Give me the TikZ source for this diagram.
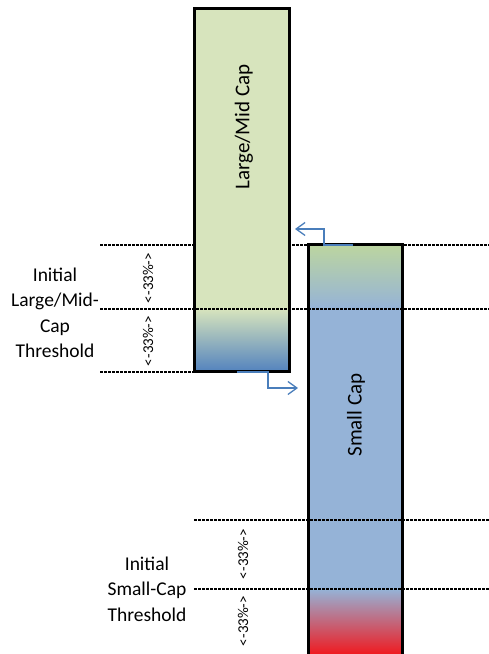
\documentclass[tikz,border=0pt]{standalone}
\usepackage{fontspec}
\setmainfont{Carlito}
\usepackage{xcolor}
\usetikzlibrary{arrows.meta, positioning}

\definecolor{lmgreen}{HTML}{D7E4BD}
\definecolor{topgreen}{HTML}{BCD5A0}
\definecolor{capblue}{HTML}{95B3D7}
\definecolor{deepblue}{HTML}{5282BE}
\definecolor{capred}{HTML}{F2161B}
\definecolor{connblue}{HTML}{4A7EBB}

\begin{document}
\begin{tikzpicture}[x=1pt, y=1pt,
        capbox/.style={rectangle, inner sep=0pt, outer sep=0pt},
        edge/.style={draw=black, line width=3pt},
        caplabel/.style={rotate=90, font=\fontsize{21}{25}\selectfont},
        threshold/.style={align=center, font=\fontsize{19.5}{25.5}\selectfont},
        pct/.style={rotate=90, inner sep=0pt, font=\fontsize{15}{17}\selectfont},
        level/.style={dash pattern=on 3pt off 1pt, line width=2pt, black},
        move/.style={-{Straight Barb[length=9pt, width=13pt]}, line width=1.3pt, connblue}
    ]
        \clip (0,0) rectangle (489,654);

        % Level behind the boxes
        \draw[level] (100,409) -- (489,409);

        % Boxes
        \node[capbox, fill=lmgreen, minimum width=95pt, minimum height=363pt] (large) at (241.5,463.5) {};
        \node[capbox, fill=capblue, minimum width=94pt, minimum height=411pt] (small) at (355,203.5) {};
        \shade[top color=lmgreen, bottom color=deepblue] ([yshift=63pt]large.south west) rectangle (large.south east);
        \shade[top color=topgreen, bottom color=capblue] (small.north west) rectangle ([yshift=-64pt]small.north east);
        \shade[top color=capblue, bottom color=capred] ([yshift=67pt]small.south west) rectangle (small.south east);
        \draw[edge] (large.south west) rectangle (large.north east);
        \draw[edge] (small.south west) rectangle (small.north east);
        \node[caplabel] (largetxt) at (244,527) {Large/Mid Cap};
        \node[caplabel] (smalltxt) at (356,239) {Small Cap};

        % Levels
        \draw[level] (100,345) -- (489,345);
        \draw[level] (100,282) -- (large.south west);
        \foreach \y in {134, 65}
            \draw[level] (194,\y) -- (489,\y);

        % Thresholds
        \node[threshold] (largethr) at (55,341) {Initial\\Large/Mid-\\Cap\\Threshold};
        \node[threshold] (smallthr) at (147,65) {Initial\\Small-Cap\\Threshold};
        \node[pct] (pctA) at (148,376) {<-33\%->};
        \node[pct] (pctB) at (148,313) {<-33\%->};
        \node[pct] (pctC) at (243,100) {<-33\%->};
        \node[pct] (pctD) at (243,33) {<-33\%->};

        % Moves
        \coordinate (upend) at (295,425);
        \coordinate (downend) at (298,266);
        \draw[move] ([xshift=-2pt]small.north) -- ++(-29,0) |- (upend);
        \draw[move] ([xshift=-4.5pt]large.south) -- ++(31,0) |- (downend);
    \end{tikzpicture}
\end{document}
